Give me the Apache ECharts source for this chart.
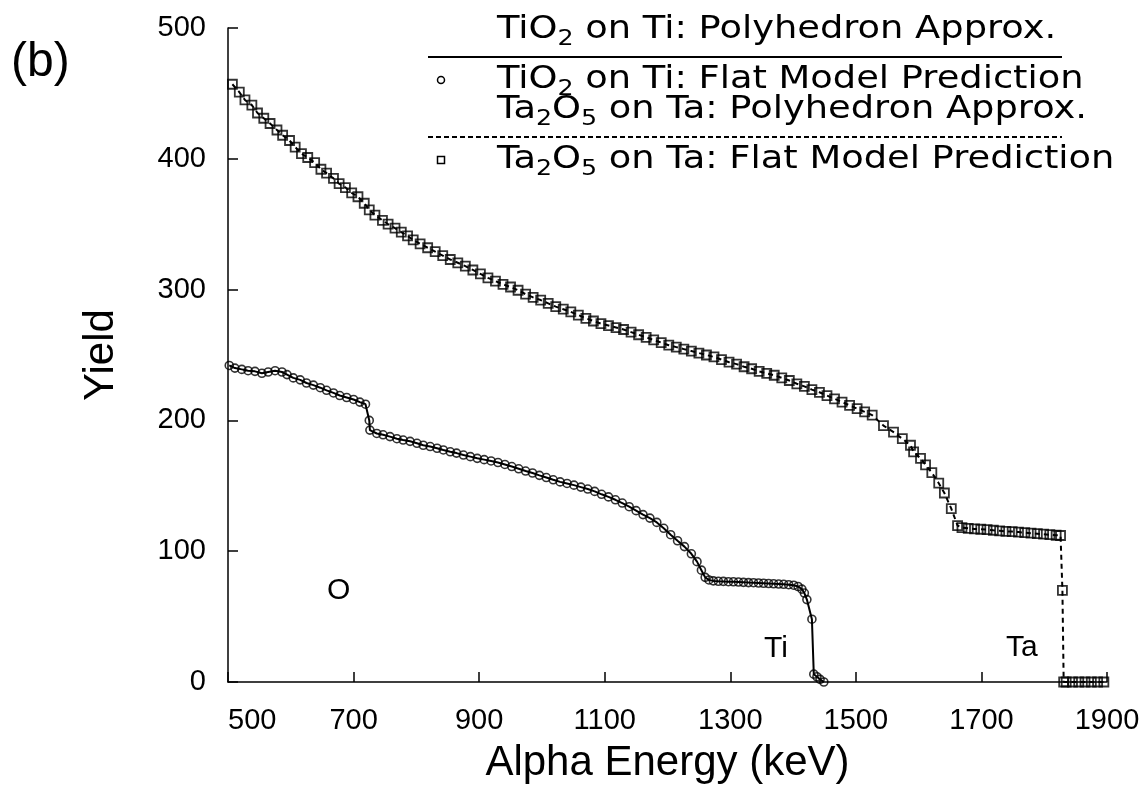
<!DOCTYPE html>
<html>
<head>
<meta charset="utf-8">
<script src="https://cdn.jsdelivr.net/npm/echarts@6/dist/echarts.min.js"></script>
<style>
  html, body { margin: 0; padding: 0; background: #fff; }
  #chart { width: 1144px; height: 789px; }
</style>
</head>
<body>
<div id="chart"></div>
<script>
// TiO2 on Ti (flat model points, polyhedron line runs through them)
const tiEnergy = [502, 511, 522, 532, 543, 554, 564, 575, 586, 594, 604, 615, 625, 636, 647, 657, 668, 678, 689, 700,
  710, 719, 725, 726, 737, 747, 758, 769, 779, 790, 801, 811, 822, 833, 843, 854, 864, 875, 886, 897,
  908, 919, 930, 941, 952, 963, 974, 985, 996, 1007, 1018, 1029, 1040, 1051, 1062, 1073, 1084, 1095, 1106, 1117,
  1128, 1139, 1150, 1161, 1172, 1183, 1194, 1205, 1216, 1227, 1238, 1247, 1254, 1260, 1266, 1273, 1281, 1289, 1297, 1305,
  1313, 1321, 1329, 1337, 1345, 1353, 1361, 1369, 1377, 1385, 1393, 1401, 1408, 1414, 1418, 1422, 1430, 1433, 1438, 1443,
  1449]
const tiYield = [242, 240, 239, 238, 237.5, 236, 237, 238, 237, 235, 232.5, 231, 228.6, 227, 225, 223, 221, 219, 217.5, 216,
  214, 212.4, 200, 192.6, 190, 189, 187.6, 186, 185, 184, 182.5, 181, 180, 178.7, 177.4, 176, 175, 173.5, 172.3, 171,
  170, 169, 167.8, 166.3, 164.7, 163, 161.3, 159.8, 158, 156.3, 154.6, 153, 151.8, 150.5, 149, 147.5, 145.7, 143.5, 141.5, 139.3,
  136.8, 134, 131, 128, 125.3, 122, 117.5, 112.6, 108, 103.5, 98, 92, 85.5, 80, 78, 77.3, 77, 76.9, 76.7, 76.6,
  76.4, 76.2, 76, 75.9, 75.7, 75.5, 75.3, 75.1, 74.9, 74.7, 74.4, 74, 73, 71, 68, 63, 48, 6, 4, 2,
  0]

// Ta2O5 on Ta
const taEnergy = [507, 518, 527, 538, 547, 557, 567, 578, 587, 598, 607, 617, 627, 638, 648, 657, 668, 677, 687, 697,
  707, 717, 725, 734, 746, 755, 766, 776, 786, 795, 806, 818, 830, 842, 854, 866, 878, 890, 902, 914,
  926, 938, 950, 962, 974, 986, 998, 1010, 1022, 1034, 1046, 1058, 1070, 1082, 1094, 1106, 1118, 1130, 1142, 1154,
  1166, 1178, 1190, 1202, 1214, 1226, 1238, 1250, 1262, 1274, 1286, 1298, 1310, 1322, 1334, 1346, 1358, 1370, 1382, 1394,
  1406, 1418, 1430, 1442, 1454, 1466, 1478, 1490, 1502, 1514, 1526, 1544, 1560, 1574, 1587, 1592, 1603, 1611, 1621, 1632,
  1641, 1652, 1662, 1669, 1679, 1689, 1699, 1709, 1719, 1729, 1739, 1749, 1759, 1769, 1779, 1789, 1799, 1809, 1819, 1826,
  1829, 1831, 1835, 1845, 1855, 1865, 1875, 1885, 1895]
const taYield = [457, 451, 445, 441, 435, 431, 427, 422, 418, 414, 409, 404, 401, 397, 392, 389, 385, 381, 378, 374,
  371, 366, 361, 357, 353, 350, 347, 344, 341, 338, 335, 332, 329, 326, 323, 320.5, 318, 315, 312, 309,
  306.5, 304, 302, 299.5, 296.5, 294, 292, 289.5, 287, 285, 283, 280.5, 278, 276, 274, 272.5, 271, 269.5, 267.5, 265.5,
  263.5, 261.5, 259.5, 257.5, 256, 254.5, 253, 251.5, 250, 248.5, 246.5, 244.5, 243, 241, 239.5, 237.5, 236, 234.5, 232.5, 230.5,
  228, 226, 223.5, 221.5, 219, 216.5, 214, 211.5, 209, 206.5, 204, 196, 191, 186, 181, 176, 171, 166, 160, 152,
  144.5, 132.5, 119.6, 118, 117.5, 117, 116.8, 116.5, 116, 115.6, 115.2, 115, 114.6, 114.2, 113.8, 113.4, 113, 112.6, 112.2, 112,
  70, 0, 0, 0, 0, 0, 0, 0, 0]

const xTicks = [500, 700, 900, 1100, 1300, 1500, 1700, 1900]
const yTicks = [0, 100, 200, 300, 400, 500]

const FONT = 'Liberation Sans, Arial, sans-serif'
const LEGEND_FONT = 'DejaVu Sans, sans-serif'

const zip = (xs, ys) => xs.map((x, i) => [x, ys[i]])
const tiData = zip(tiEnergy, tiYield)
const taData = zip(taEnergy, taYield)

const chart = echarts.init(document.getElementById('chart'), null, { renderer: 'canvas' })

// legend drawn by hand: text with a line beneath, as in the figure
const legendLeft = 428
const legendRight = 1062
const textLeft = 497
const subRich = {
  s: { fontSize: 22, lineHeight: 20, verticalAlign: 'bottom', fontFamily: LEGEND_FONT, fill: '#000' }
}
// the figure's lettering is widely tracked, so stretch it a little sideways
const legendText = (str, y) => ({
  type: 'text',
  x: textLeft,
  y: y - 20,
  scaleX: 1.15,
  style: {
    text: str,
    rich: subRich,
    font: '32px ' + LEGEND_FONT,
    lineHeight: 40,
    fill: '#000'
  }
})

const option = {
  backgroundColor: '#fff',
  animation: false,
  grid: { left: 228, right: 37, top: 28, bottom: 104 },
  xAxis: {
    type: 'value',
    min: xTicks[0],
    max: xTicks[xTicks.length - 1],
    interval: 200,
    name: 'Alpha Energy (keV)',
    nameLocation: 'middle',
    nameGap: 60,
    nameTextStyle: { fontFamily: FONT, fontSize: 42, color: '#000' },
    axisLine: { lineStyle: { color: '#000', width: 1.5 } },
    axisTick: { inside: true, length: 10, lineStyle: { color: '#000', width: 1.5 } },
    axisLabel: {
      fontFamily: FONT, fontSize: 29, color: '#000', margin: 24, alignMinLabel: 'left',
      formatter: v => String(v)
    },
    splitLine: { show: false }
  },
  yAxis: {
    type: 'value',
    min: yTicks[0],
    max: yTicks[yTicks.length - 1],
    interval: 100,
    name: 'Yield',
    nameLocation: 'middle',
    nameGap: 106,
    nameRotate: 90,
    nameTextStyle: { fontFamily: FONT, fontSize: 42, color: '#000' },
    axisLine: { show: true, lineStyle: { color: '#000', width: 1.5 } },
    axisTick: { show: true, inside: true, length: 10, lineStyle: { color: '#000', width: 1.5 } },
    axisLabel: { fontFamily: FONT, fontSize: 29, color: '#000', margin: 22 },
    splitLine: { show: false }
  },
  series: [
    {
      name: 'TiO2 on Ti: Polyhedron Approx.',
      type: 'line',
      data: tiData,
      showSymbol: false,
      lineStyle: { color: '#000', width: 2 }
    },
    {
      name: 'TiO2 on Ti: Flat Model Prediction',
      type: 'scatter',
      data: tiData,
      symbol: 'circle',
      symbolSize: 8,
      itemStyle: { color: 'transparent', borderColor: '#000', borderWidth: 1.6 }
    },
    {
      name: 'Ta2O5 on Ta: Polyhedron Approx.',
      type: 'line',
      data: taData,
      showSymbol: false,
      lineStyle: { color: '#000', width: 2, type: [5, 4] }
    },
    {
      name: 'Ta2O5 on Ta: Flat Model Prediction',
      type: 'scatter',
      data: taData,
      symbol: 'rect',
      symbolSize: 9,
      itemStyle: { color: 'transparent', borderColor: '#000', borderWidth: 1.8 }
    }
  ],
  graphic: [
    { type: 'text', left: 11, top: 39, style: { text: '(b)', font: '48px ' + FONT, fill: '#000' } },
    { type: 'text', left: 327, top: 576, style: { text: 'O', font: '30px ' + FONT, fill: '#000' } },
    { type: 'text', left: 764, top: 634, style: { text: 'Ti', font: '30px ' + FONT, fill: '#000' } },
    { type: 'text', left: 1006, top: 633, style: { text: 'Ta', font: '30px ' + FONT, fill: '#000' } },

    legendText('TiO{s|2} on Ti: Polyhedron Approx.', 30),
    { type: 'line', shape: { x1: legendLeft, y1: 57, x2: legendRight, y2: 57 }, style: { stroke: '#000', lineWidth: 2 } },
    { type: 'circle', shape: { cx: 441, cy: 80, r: 3.5 }, style: { fill: 'transparent', stroke: '#000', lineWidth: 1.5 } },
    legendText('TiO{s|2} on Ti: Flat Model Prediction', 80),
    legendText('Ta{s|2}O{s|5} on Ta: Polyhedron Approx.', 110),
    { type: 'line', shape: { x1: legendLeft, y1: 137, x2: legendRight, y2: 137 }, style: { stroke: '#000', lineWidth: 2, lineDash: [5, 3] } },
    { type: 'rect', shape: { x: 437.5, y: 156.5, width: 7, height: 7 }, style: { fill: 'transparent', stroke: '#000', lineWidth: 1.5 } },
    legendText('Ta{s|2}O{s|5} on Ta: Flat Model Prediction', 160)
  ]
}

chart.setOption(option)
</script>
</body>
</html>
